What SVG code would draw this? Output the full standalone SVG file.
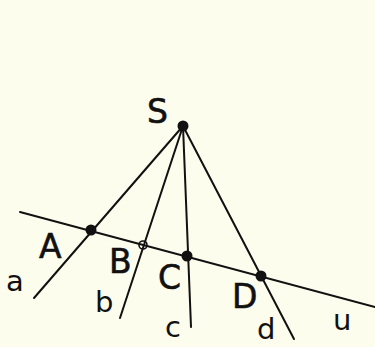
<svg xmlns="http://www.w3.org/2000/svg" width="375" height="347" viewBox="0 0 375 347">
<style>
.ln{stroke:#111;stroke-width:2;fill:none;stroke-linecap:round}
.dot{fill:#111}
.cap{font-family:"DejaVu Sans","Liberation Sans",sans-serif;font-size:33px;fill:#111;stroke:#111;stroke-width:0.6}
.low{font-family:"DejaVu Sans","Liberation Sans",sans-serif;font-size:29px;fill:#111}
</style>
<rect width="375" height="347" fill="#fdfdee"/>
<g id="connectors">
<line class="ln" x1="20" y1="212" x2="375" y2="307"/>
<line class="ln" x1="183" y1="126" x2="34" y2="298"/>
<line class="ln" x1="183" y1="126" x2="120" y2="318"/>
<line class="ln" x1="183" y1="126" x2="191" y2="327"/>
<line class="ln" x1="183" y1="126" x2="294" y2="339"/>
</g>
<g id="S"><circle class="dot" cx="183" cy="126" r="5.5"/><text class="cap" x="147" y="123">S</text></g>
<g id="A"><circle class="dot" cx="91" cy="230" r="5.5"/><text class="cap" x="39" y="258">A</text></g>
<g id="B"><circle cx="143" cy="245" r="4" fill="none" stroke="#111" stroke-width="1.6"/><text class="cap" x="109" y="273">B</text></g>
<g id="C"><circle class="dot" cx="187" cy="256" r="5.5"/><text class="cap" x="158" y="289">C</text></g>
<g id="D"><circle class="dot" cx="261" cy="276" r="5.5"/><text class="cap" x="232" y="308">D</text></g>
<g id="labels">
<text class="low" x="6" y="291">a</text>
<text class="low" x="95" y="312">b</text>
<text class="low" x="165" y="337">c</text>
<text class="low" x="257" y="339">d</text>
<text class="low" x="333" y="330">u</text>
</g>
</svg>
